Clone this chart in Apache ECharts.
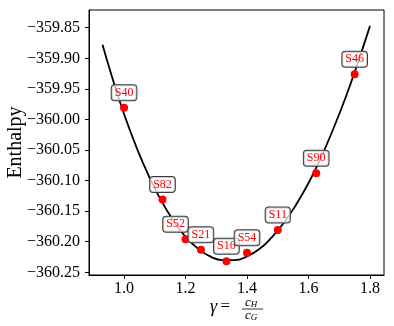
<!DOCTYPE html>
<html>
<head>
<meta charset="utf-8">
<script src="https://cdn.jsdelivr.net/npm/echarts@6/dist/echarts.min.js"></script>
<style>
html,body{margin:0;padding:0;background:#fff;}
#c{width:394px;height:326px;}
</style>
</head>
<body>
<div id="c"></div>
<script>
// ---- data ----
var structureLabels = ['S40','S82','S52','S21','S16','S54','S11','S90','S46'];
var gammaValues = [1.0, 1.125, 1.2, 1.25, 1.333, 1.4, 1.5, 1.625, 1.75];
var enthalpyValues = [-359.981, -360.131, -360.196, -360.213, -360.232, -360.218, -360.181, -360.088, -359.926];
var fitGamma = [0.93, 0.96, 1.00, 1.04, 1.08, 1.12, 1.16, 1.20, 1.24, 1.28, 1.32, 1.36, 1.40, 1.44, 1.48, 1.52, 1.56, 1.60, 1.64, 1.68, 1.72, 1.76, 1.80];
var fitEnthalpy = [-359.878, -359.929, -359.991, -360.045, -360.092, -360.132, -360.165, -360.192, -360.211, -360.224, -360.230, -360.230, -360.224, -360.212, -360.193, -360.169, -360.139, -360.104, -360.063, -360.016, -359.965, -359.908, -359.847];
var xTicks = [1.0, 1.2, 1.4, 1.6, 1.8];
var yTicks = [-360.25, -360.20, -360.15, -360.10, -360.05, -360.00, -359.95, -359.90, -359.85];

var chart = echarts.init(document.getElementById('c'));
var serif = 'Liberation Serif';
var fitData = fitGamma.map(function(x, i){ return [x, fitEnthalpy[i]]; });
var ptData = gammaValues.map(function(x, i){
  return {value: [x, enthalpyValues[i]], name: structureLabels[i],
          label: {offset: structureLabels[i] === 'S52' ? [-10, -15] : [0, -15]}};
});
function minus(s){ return s.replace('-', '\u2212'); }

chart.setOption({
  animation: false,
  grid: {left: 89, right: 10, top: 10, bottom: 51, show: true, borderColor: '#000', borderWidth: 1,
         containLabel: false, outerBoundsMode: 'none'},
  xAxis: {
    type: 'value', min: 0.886, max: 1.8455,
    axisLine: {show: true, lineStyle: {color: '#000', width: 1}},
    axisTick: {show: true, length: 4, lineStyle: {color: '#000'}, customValues: xTicks},
    axisLabel: {customValues: xTicks, margin: 6, color: '#000', fontFamily: serif, fontSize: 16,
      formatter: function(v){ return minus(v.toFixed(1)); }},
    splitLine: {show: false}
  },
  yAxis: {
    type: 'value', min: -360.2544, max: -359.821,
    name: 'Enthalpy', nameLocation: 'middle', nameGap: 63, nameRotate: 90, nameMoveOverlap: false,
    nameTextStyle: {fontFamily: serif, fontSize: 20, color: '#000'},
    axisLine: {show: true, lineStyle: {color: '#000', width: 1}},
    axisTick: {show: true, length: 4, lineStyle: {color: '#000'}, customValues: yTicks},
    axisLabel: {customValues: yTicks, margin: 9, color: '#000', fontFamily: serif, fontSize: 16,
      formatter: function(v){ return minus(v.toFixed(2)); }},
    splitLine: {show: false}
  },
  series: [
    {type: 'line', data: fitData, smooth: true, showSymbol: false, symbol: 'none',
     lineStyle: {color: '#000', width: 1.8}, z: 2},
    {type: 'scatter', data: ptData, symbolSize: 8, itemStyle: {color: '#ff0000', opacity: 1}, z: 3,
     label: {show: true, position: 'inside', formatter: '{b}', color: '#ff0000',
       fontFamily: serif, fontSize: 12, lineHeight: 12,
       backgroundColor: 'rgba(255,255,255,0.75)', borderColor: '#3a3a3a', borderWidth: 1,
       borderRadius: 3, padding: [2, 3, 1, 3]}}
  ],
  graphic: [
    {type: 'text', left: 210, top: 298, style: {
      text: '{g|\u03b3} {e|=}', fill: '#000',
      rich: {g: {fontFamily: serif, fontStyle: 'italic', fontSize: 18}, e: {fontFamily: serif, fontSize: 17}}}},
    {type: 'text', left: 245, top: 296, style: {
      text: '{c|c}{s|H}', fill: '#000',
      rich: {c: {fontFamily: serif, fontStyle: 'italic', fontSize: 13, verticalAlign: 'top'},
             s: {fontFamily: serif, fontStyle: 'italic', fontSize: 9, verticalAlign: 'bottom'}}}},
    {type: 'line', shape: {x1: 242, y1: 309, x2: 263, y2: 309}, style: {stroke: '#000', lineWidth: 0.8}},
    {type: 'text', left: 245, top: 309, style: {
      text: '{c|c}{s|G}', fill: '#000',
      rich: {c: {fontFamily: serif, fontStyle: 'italic', fontSize: 13, verticalAlign: 'top'},
             s: {fontFamily: serif, fontStyle: 'italic', fontSize: 9, verticalAlign: 'bottom'}}}}
  ]
});
</script>
</body>
</html>
